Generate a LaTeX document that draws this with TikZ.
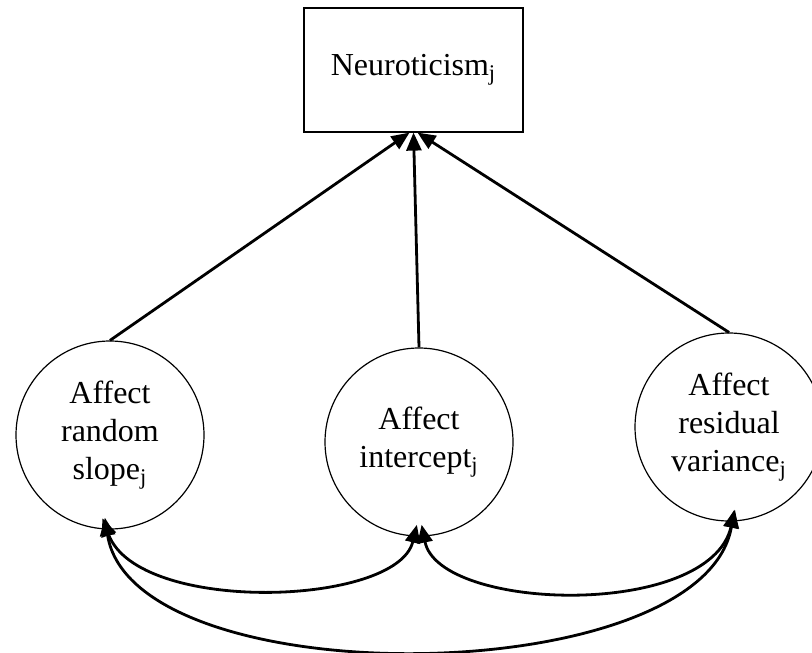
\documentclass[tikz,border=0pt]{standalone}
\usepackage{fontspec}
\setmainfont{Liberation Serif}
\usetikzlibrary{arrows.meta}
\tikzset{
  latent/.style={draw,circle,line width=0.6pt,align=center,inner sep=0pt,minimum size=94pt,font=\fontsize{16}{19}\selectfont},
  manifest/.style={draw,rectangle,line width=0.6pt,minimum width=109.5pt,minimum height=62pt,font=\fontsize{16}{19}\selectfont},
  regpath/.style={-{Triangle[length=9pt,width=7.5pt]},line width=1.4pt},
  covpath/.style={{Triangle[length=9pt,width=7.5pt]}-{Triangle[length=9pt,width=7.5pt]},line width=1.4pt,shorten <=-6pt,shorten >=-6pt}
}

\begin{document}
\begin{tikzpicture}[x=0.5pt,y=-0.5pt]
    \useasboundingbox (0,0) rectangle (812,652);
    \node[manifest] (neuro) at (413.5,70) {Neuroticism\textsubscript{j}};
    \node[latent] (slope) at (110,435) {Affect\\random\\slope\textsubscript{j}};
    \node[latent] (icpt) at (419,442) {Affect\\intercept\textsubscript{j}};
    \node[latent] (resvar) at (729,427) {Affect\\residual\\variance\textsubscript{j}};
    % paths to neuroticism
    \draw[regpath] (slope.north) -- ([xshift=-2pt]neuro.south);
    \draw[regpath] (icpt.north) -- (neuro.south);
    \draw[regpath] (resvar.north) -- ([xshift=2pt]neuro.south);
    % covariances
    \draw[covpath] (slope.-92) .. controls +(32,85) and +(-17,70) .. (icpt.-93);
    \draw[covpath] (icpt.-87) .. controls +(15,75) and +(-23,98) .. (resvar.-88);
    \draw[covpath] (slope.-92) .. controls +(26,168) and +(-29,170) .. (resvar.-88);
  \end{tikzpicture}
\end{document}
